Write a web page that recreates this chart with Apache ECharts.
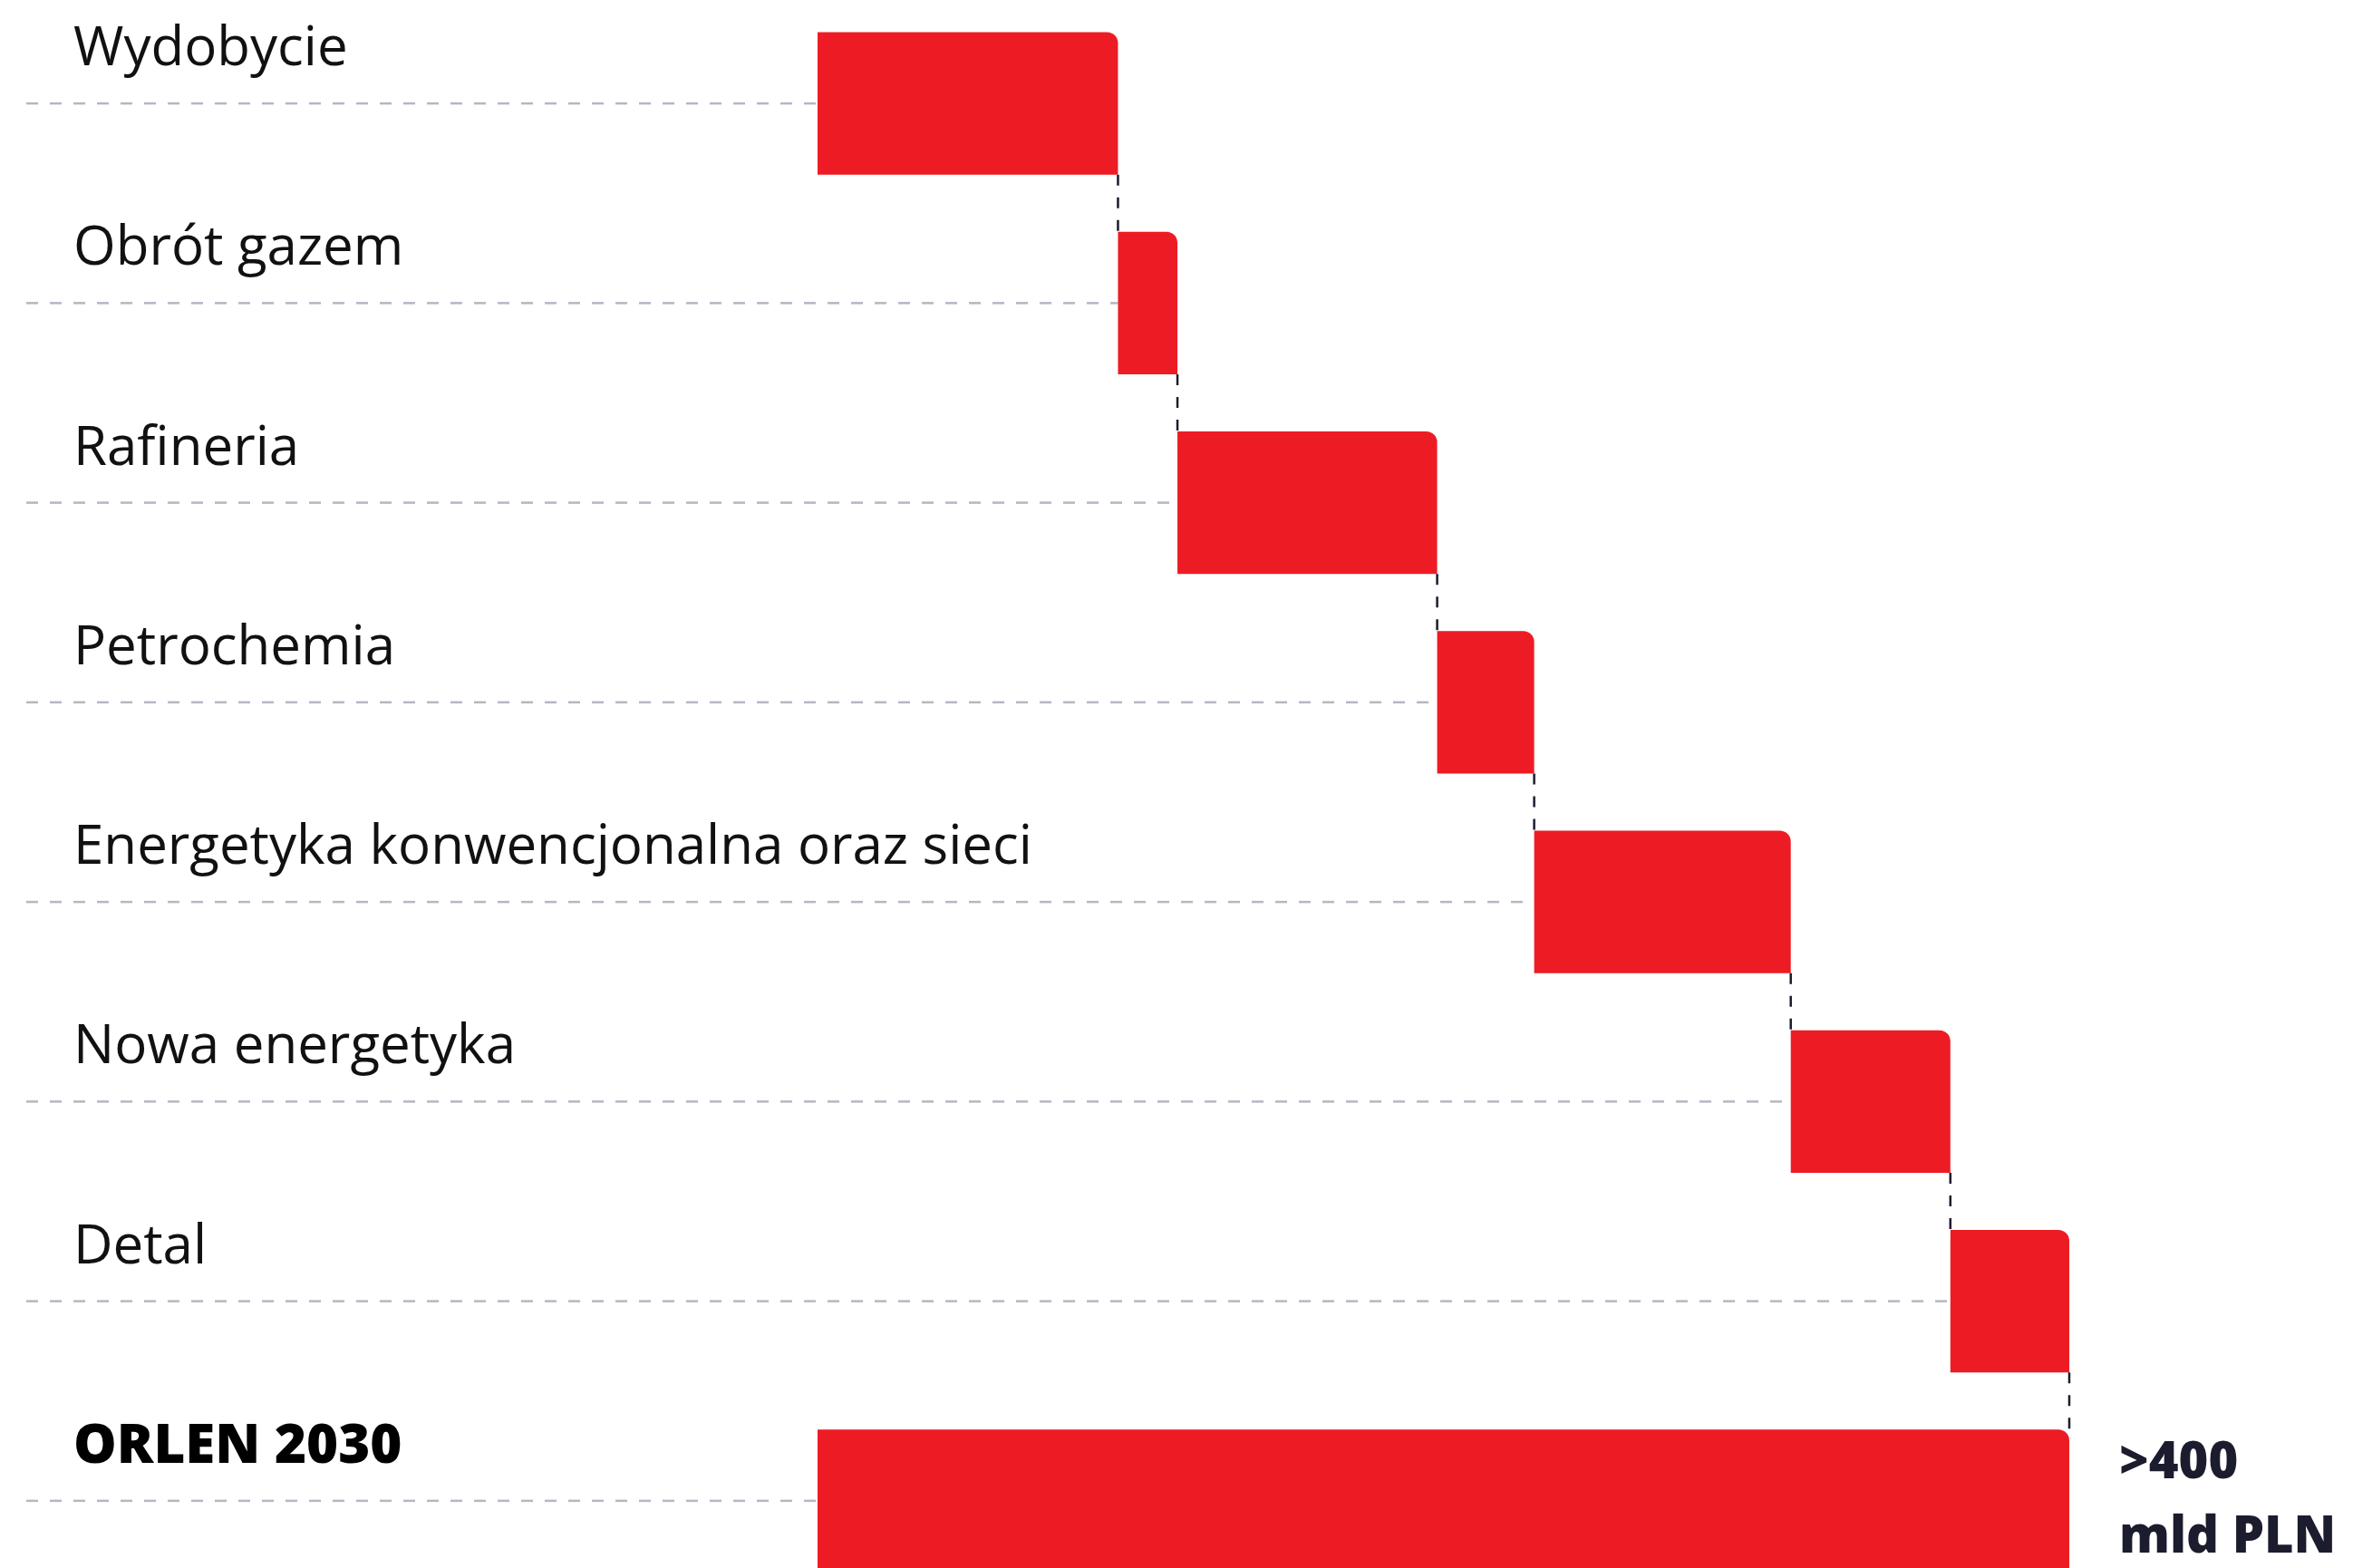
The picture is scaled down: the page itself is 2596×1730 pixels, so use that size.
<!DOCTYPE html>
<html>
<head>
<meta charset="utf-8">
<script src="https://cdn.jsdelivr.net/npm/echarts@6/dist/echarts.min.js"></script>
<style>
html,body{margin:0;padding:0;background:#fff;}
#chart{width:2596px;height:1730px;}
</style>
</head>
<body>
<div id="chart"></div>
<script>
// ---- data ----
const categories = ['Wydobycie', 'Obrót gazem', 'Rafineria', 'Petrochemia',
  'Energetyka konwencjonalna oraz sieci', 'Nowa energetyka', 'Detal', 'ORLEN 2030'];
const segmentValues = [96, 19, 83, 31, 82, 51, 38];
const totalValue = 400;
const totalLabelLines = ['>400', 'mld PLN'];

// ---- derived (waterfall bases) ----
const bases = [];
const ends = [];
let acc = 0;
segmentValues.forEach(v => { bases.push(acc); acc += v; ends.push(acc); });
bases.push(0);

const RED = '#ED1C24';
const NAVY = '#1B1C2D';
const GRID_GREY = '#B4B7C4';
const FONT = '"Open Sans"';

const chart = echarts.init(document.getElementById('chart'));

const valueData = segmentValues.map(v => v);
valueData.push({
  value: totalValue,
  label: {
    show: true,
    position: 'right',
    distance: 55,
    formatter: totalLabelLines.join('\n'),
    fontFamily: FONT,
    fontWeight: 800,
    fontSize: 56,
    lineHeight: 82,
    padding: [10, 0, 0, 0],
    color: NAVY,
    align: 'left'
  }
});

chart.setOption({
  animation: false,
  backgroundColor: '#fff',
  grid: { left: 902, top: 4, width: 1553.6, height: 1762, outerBoundsMode: 'none', containLabel: false },
  xAxis: {
    type: 'value', min: 0, max: 450,
    show: false
  },
  yAxis: {
    type: 'category',
    data: categories,
    inverse: true,
    axisLine: { show: false },
    axisTick: { show: false },
    splitLine: { show: false },
    axisLabel: {
      align: 'left',
      margin: 821,
      verticalAlign: 'middle',
      padding: [0, 0, 118, 0],
      fontFamily: FONT,
      fontSize: 60,
      color: '#111',
      formatter: function (value, idx) {
        return idx === categories.length - 1 ? '{b|' + value + '}' : value;
      },
      rich: {
        b: { fontFamily: FONT, fontSize: 60, fontWeight: 800, color: '#000' }
      }
    }
  },
  series: [
    {
      // dashed row guide lines from the left margin to the bar start
      type: 'custom',
      z: 1,
      silent: true,
      data: bases.map((b, i) => [b, i]),
      encode: { x: 0, y: 1 },
      renderItem: function (params, api) {
        const p = api.coord([api.value(0), api.value(1)]);
        return {
          type: 'line',
          shape: { x1: params.coordSys.x - 873, y1: p[1], x2: p[0], y2: p[1] },
          style: { stroke: GRID_GREY, lineWidth: 2.5, lineDash: [13, 13] }
        };
      }
    },
    {
      type: 'bar',
      stack: 'w',
      z: 2,
      silent: true,
      itemStyle: { color: 'rgba(0,0,0,0)' },
      barCategoryGap: '28.6%',
      data: bases
    },
    {
      type: 'bar',
      stack: 'w',
      z: 2,
      barCategoryGap: '28.6%',
      itemStyle: { color: RED, borderRadius: [0, 12, 0, 0] },
      data: valueData
    },
    {
      // dashed connectors between consecutive bars
      type: 'custom',
      z: 3,
      silent: true,
      data: ends.map((e, i) => [e, i]),
      encode: { x: 0, y: 1 },
      renderItem: function (params, api) {
        const i = api.value(1);
        const p = api.coord([api.value(0), i]);
        const q = api.coord([api.value(0), i + 1]);
        const half = api.size([0, 1])[1] * 0.714 / 2;
        return {
          type: 'line',
          shape: { x1: p[0], y1: p[1] + half, x2: q[0], y2: q[1] - half },
          style: { stroke: NAVY, lineWidth: 2.5, lineDash: [12, 13] }
        };
      }
    }
  ]
});
</script>
</body>
</html>
